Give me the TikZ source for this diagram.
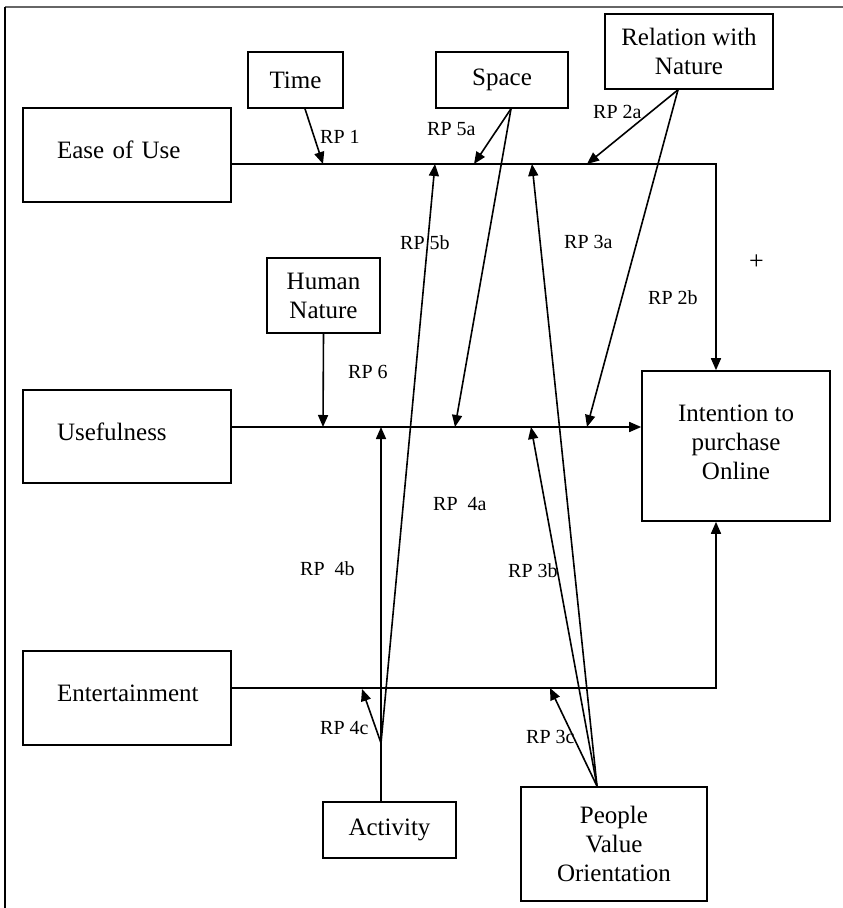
\documentclass[tikz,border=0pt]{standalone}
\usepackage{fontspec}
\setmainfont{Liberation Serif}
\usetikzlibrary{arrows.meta}
\begin{document}
\begin{tikzpicture}[x=1pt,y=-1pt,
  box/.style={draw,line width=1.6pt,inner sep=0pt,align=center,font=\fontsize{25}{29}\selectfont},
  lbox/.style={box,align=left,text width=#1,text depth=10pt},
  lab/.style={anchor=west,inner sep=0pt,font=\fontsize{20}{24}\selectfont},
  conn/.style={line width=1.6pt},
  arr/.style={conn,-{Triangle[length=12pt,width=10pt]}}]
\useasboundingbox (0,0) rectangle (843,908);
% frame
\draw[line width=2.5pt,black!60] (5,7) -- (843,7);
\draw[line width=1.4pt] (5,7) -- (5,908);
% boxes
\node[lbox=140pt,minimum width=208pt,minimum height=94pt] (ease) at (127,155) {Ease of Use};
\node[lbox=140pt,minimum width=208pt,minimum height=93pt] (useful) at (127,436.5) {Usefulness};
\node[lbox=140pt,minimum width=208pt,minimum height=94pt] (ent) at (127,698) {Entertainment};
\node[box,minimum width=95pt,minimum height=56pt] (time) at (295.5,80) {Time};
\node[box,minimum width=132pt,minimum height=56pt] (space) at (502,80) {Space};
\node[box,minimum width=168pt,minimum height=75pt] (rel) at (689,51.5) {Relation with\\Nature};
\node[box,minimum width=113pt,minimum height=75pt] (human) at (323.5,295.5) {Human\\Nature};
\node[box,minimum width=188pt,minimum height=150pt,text depth=8pt] (int) at (736,446) {Intention to\\purchase\\Online};
\node[box,minimum width=133pt,minimum height=56pt] (act) at (389.5,830) {Activity};
\node[box,minimum width=186pt,minimum height=114pt] (pvo) at (614,844) {People\\Value\\Orientation};
% coordinates
\coordinate (ec) at (716,164);
\coordinate (nc) at (716,688);
\coordinate (t1) at (323,164);
\coordinate (t5a) at (474,164);
\coordinate (t5b) at (435,164);
\coordinate (t3a) at (532,164);
\coordinate (t2a) at (587,164);
\coordinate (t6) at (323,427);
\coordinate (t4a) at (455,427);
\coordinate (t4b) at (381,427);
\coordinate (t3b) at (531,427);
\coordinate (t2b) at (587,427);
\coordinate (t4c) at (362,689);
\coordinate (t3c) at (550,688);
\coordinate (J) at (381,743);
% main lines
\draw[arr] ([yshift=-9pt]ease.east) -- (ec) -- (ec |- int.north);
\draw[arr] ([yshift=9.5pt]useful.east) -- ([yshift=9.5pt]useful.east -| int.west);
\draw[arr] ([yshift=10pt]ent.east) -- (nc) -- (nc |- int.south);
% moderators
\draw[arr] ([xshift=9.5pt]time.south) -- (t1);
\draw[arr] (human.south) -- (t6);
\draw[arr] ([xshift=9pt]space.south) -- (t5a);
\draw[arr] ([xshift=9pt]space.south) -- (t4a);
\draw[arr] ([xshift=-11pt]rel.south) -- (t2a);
\draw[arr] ([xshift=-11pt]rel.south) -- (t2b);
\draw[arr] ([xshift=-8.5pt]act.north) -- (t4b);
\draw[arr] (J) -- (t4c);
\draw[arr] (J) -- (t5b);
\draw[arr] ([xshift=-17pt]pvo.north) -- (t3a);
\draw[arr] ([xshift=-17pt]pvo.north) -- (t3b);
\draw[arr] ([xshift=-17pt]pvo.north) -- (t3c);
% labels
\node[lab] (l1) at (320,137) {RP 1};
\node[lab] (l5a) at (427,129) {RP 5a};
\node[lab] (l2a) at (593,112) {RP 2a};
\node[lab] (l5b) at (400,243) {RP 5b};
\node[lab] (l3a) at (564,242) {RP 3a};
\node[lab] (l2b) at (648,298) {RP 2b};
\node[lab,font=\fontsize{26}{28}\selectfont] (plus) at (749,262) {+};
\node[lab] (l6) at (348,372) {RP 6};
\node[lab] (l4a) at (433,504) {RP\ \ 4a};
\node[lab] (l4b) at (300,569) {RP\ \ 4b};
\node[lab] (l3b) at (508,571) {RP 3b};
\node[lab] (l4c) at (320,728) {RP 4c};
\node[lab] (l3c) at (526,737) {RP 3c};
\end{tikzpicture}
\end{document}
